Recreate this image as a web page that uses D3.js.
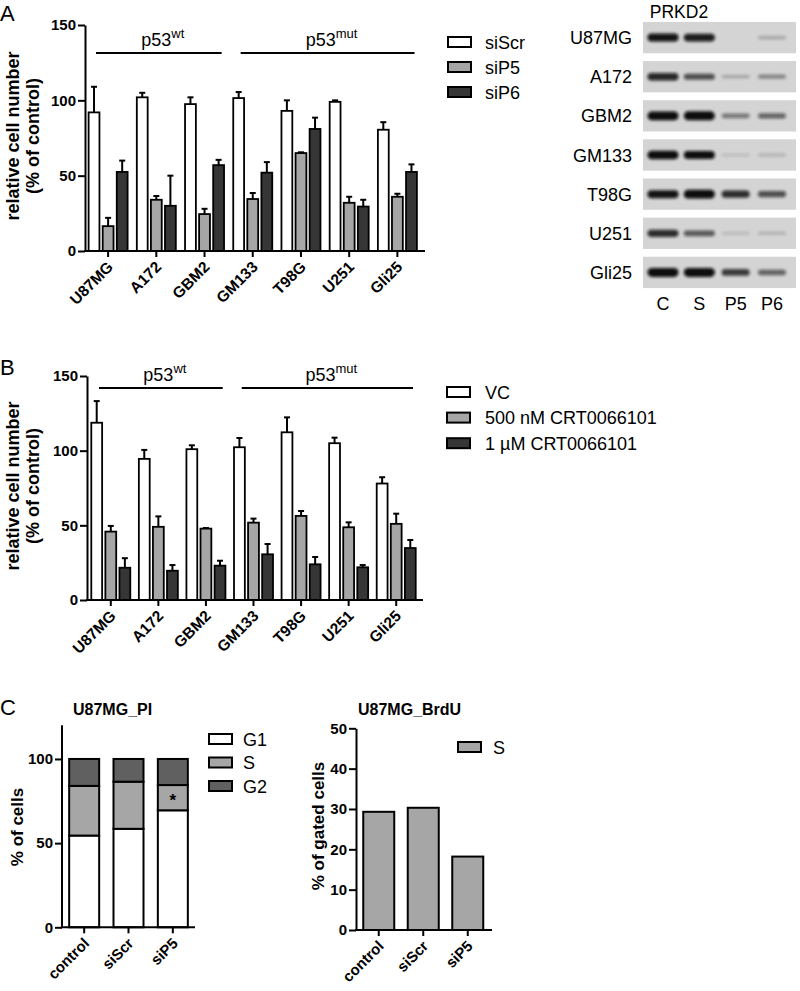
<!DOCTYPE html>
<html><head><meta charset="utf-8">
<script src="https://cdn.jsdelivr.net/npm/d3@7"></script>
<style>body{margin:0;background:#fff} svg{display:block}</style>
</head><body><svg id="c" width="800" height="991"></svg>
<script>
// ---------------- DATA ----------------
const cellLines = ["U87MG","A172","GBM2","GM133","T98G","U251","Gli25"];
const yTicksAB = [0,50,100,150];

// Panel A (siRNA)
const seriesA = ["siScr","siP5","siP6"];
const siScrMean = [92,102,97.5,101.5,93,99,80.5];
const siScrSD   = [17,3,4.5,4,7,1,5];
const siP5Mean  = [16.5,34,24.5,34.5,65,32,36];
const siP5SD    = [5.5,2.5,3.5,4,0.5,4,2];
const siP6Mean  = [52.5,30,57,52,81,29.5,52.5];
const siP6SD    = [7.5,20,3.5,7,7.5,4.5,5];

// Panel B (CRT0066101)
const seriesB = ["VC","500 nM CRT0066101","1 \u00b5M CRT0066101"];
const vcMean   = [118.7,94.5,101,102.3,112.3,105,78];
const vcSD     = [14.5,6,2.6,6.2,10,3.7,4.2];
const c500Mean = [45.8,49,47.8,51.8,56.3,48.7,51];
const c500SD   = [3.8,7,0.4,2.7,3.3,3.3,6.8];
const c1Mean   = [21.6,19.6,23,30.6,23.9,21.9,34.8];
const c1SD     = [6.4,3.8,3.3,6.9,4.9,1.5,5.4];

// p53 status groups
const p53Groups = [
  {sup:"wt", from:"U87MG", to:"GBM2"},
  {sup:"mut", from:"GM133", to:"Gli25"}
];

// Western blot (PRKD2), band intensity 0..1
const blotLanes = ["C","S","P5","P6"];
const blotIntensity = [
  [0.85,0.80,0.00,0.12],
  [0.75,0.55,0.12,0.28],
  [0.95,1.00,0.35,0.45],
  [0.92,0.88,0.02,0.05],
  [0.85,0.95,0.72,0.55],
  [0.72,0.50,0.03,0.07],
  [1.00,1.00,0.65,0.45]
];

// Panel C
const condC = ["control","siScr","siP5"];
const phases = ["G1","S","G2"];
const g1Pct = [54.5,58.5,69.5];
const sPct  = [29.5,28,15];
const g2Pct = [16,13.5,15.5];
const yTicksPI = [0,50,100];
const brduS = [29.3,30.3,18.2];
const yTicksBrdU = [0,10,20,30,40,50];

// ---------------- STYLE ----------------
const FONT = '"Liberation Sans", Arial, Helvetica, sans-serif';
const FILL3 = ["#ffffff","#a6a6a6","#363636"];
const FILLC = ["#ffffff","#a6a6a6","#606060"];

const svg = d3.select("#c").style("font-family", FONT);
const defs = svg.append("defs");
defs.append("filter").attr("id","blur").attr("x","-30%").attr("y","-100%").attr("width","160%").attr("height","300%")
  .append("feGaussianBlur").attr("stdDeviation",1.4);

function panelLetter(t, x, y){
  svg.append("text").attr("x",x).attr("y",y).attr("font-size",22).text(t);
}

function yTitle(lines, x0, cy, size, gap){
  lines.forEach((l,i)=>{
    svg.append("text")
      .attr("transform",`translate(${x0+i*gap},${cy}) rotate(-90)`)
      .attr("text-anchor","middle").attr("font-weight","bold").attr("font-size",size).text(l);
  });
}

function yAxis(y, x, ticks){
  const g = svg.append("g").attr("transform",`translate(${x},0)`)
    .call(d3.axisLeft(y).tickValues(ticks).tickSize(7).tickPadding(2).tickSizeOuter(0));
  g.select(".domain").attr("stroke","#000").attr("stroke-width",2);
  g.selectAll(".tick line").attr("stroke","#000").attr("stroke-width",2);
  g.selectAll(".tick text").attr("font-family",FONT).attr("font-weight","bold").attr("font-size",15).attr("fill","#000");
  return g;
}

function xAxis(x, yPos, x0, x1, fontSize){
  svg.append("line").attr("x1",x0-1).attr("x2",x1).attr("y1",yPos).attr("y2",yPos)
    .attr("stroke","#000").attr("stroke-width",2);
  const g = svg.append("g");
  x.domain().forEach(d=>{
    const cx = x(d) + x.bandwidth()/2;
    g.append("line").attr("x1",cx).attr("x2",cx).attr("y1",yPos).attr("y2",yPos+6)
      .attr("stroke","#000").attr("stroke-width",2);
    g.append("text").attr("transform",`translate(${cx+6},${yPos+17}) rotate(-45)`)
      .attr("text-anchor","end").attr("font-weight","bold").attr("font-size",fontSize).text(d);
  });
}

function legend(items, fills, x, y0, step, textX){
  items.forEach((t,i)=>{
    const cy = y0 + i*step;
    svg.append("rect").attr("x",x).attr("y",cy-5).attr("width",23).attr("height",10)
      .attr("fill",fills[i]).attr("stroke","#000").attr("stroke-width",2);
    svg.append("text").attr("x",textX).attr("y",cy+6.5).attr("font-size",18).text(t);
  });
}

function groupedPanel(cfg){
  const x = d3.scaleBand().domain(cellLines).range([cfg.x0, cfg.x1]);
  const y = d3.scaleLinear().domain([0,150]).range([cfg.yBottom, cfg.yTop]);
  const sub = d3.scaleBand().domain(d3.range(3)).range([-19.5, 19.5]).paddingInner(0.23);
  cfg.means.forEach((arr, s)=>{
    arr.forEach((v, i)=>{
      const cx = x(cellLines[i]) + x.bandwidth()/2;
      const bx = cx + sub(s);
      const bw = sub.bandwidth();
      const top = y(v + cfg.sds[s][i]);
      // error bar (upper)
      svg.append("line").attr("x1",bx+bw/2).attr("x2",bx+bw/2).attr("y1",y(v)).attr("y2",top)
        .attr("stroke","#000").attr("stroke-width",2);
      svg.append("line").attr("x1",bx+bw/2-3).attr("x2",bx+bw/2+3).attr("y1",top).attr("y2",top)
        .attr("stroke","#000").attr("stroke-width",2);
      svg.append("rect").attr("x",bx).attr("y",y(v)).attr("width",bw).attr("height",y(0)-y(v))
        .attr("fill",FILL3[s]).attr("stroke","#000").attr("stroke-width",1.8);
    });
  });
  yAxis(y, cfg.axisX, yTicksAB);
  xAxis(x, cfg.yBottom, cfg.axisX, cfg.axisEnd, 15.5);
  // p53 brackets
  p53Groups.forEach(gp=>{
    const a = x(gp.from) + 12, b = x(gp.to) + x.bandwidth() - 7;
    svg.append("line").attr("x1",a).attr("x2",b).attr("y1",cfg.bracketY).attr("y2",cfg.bracketY)
      .attr("stroke","#000").attr("stroke-width",2);
    const t = svg.append("text").attr("x",(a+b)/2 + 4).attr("y",cfg.bracketY-7)
      .attr("text-anchor","middle").attr("font-size",18);
    t.append("tspan").text("p53");
    t.append("tspan").attr("font-size",13).attr("dy",-8).text(gp.sup);
  });
  return {x,y};
}

// ---------------- PANEL A ----------------
panelLetter("A", 0, 21);
groupedPanel({x0:84, x1:421.5, axisX:85, axisEnd:425, yBottom:251, yTop:25,
  means:[siScrMean,siP5Mean,siP6Mean], sds:[siScrSD,siP5SD,siP6SD], bracketY:53});
yTitle(["relative cell number","(% of control)"], 19, 136, 18, 20);
legend(seriesA, FILL3, 448, 42, 25, 485);

// Western blot
(function(){
  const rowY = d3.scaleBand().domain(cellLines).range([18,292]).paddingInner(0.2).paddingOuter(0.1);
  const lane = d3.scalePoint().domain(blotLanes).range([663,772]);
  const stripX0 = 643, stripX1 = 796;
  svg.append("text").attr("x",679).attr("y",18).attr("text-anchor","middle").attr("font-size",17.5).text("PRKD2");
  cellLines.forEach((c,i)=>{
    const y0 = rowY(c), h = rowY.bandwidth(), cy = y0 + h/2;
    svg.append("rect").attr("x",stripX0).attr("y",y0).attr("width",stripX1-stripX0).attr("height",h)
      .attr("fill","#d4d4d4");
    svg.append("text").attr("x",632).attr("y",cy+6.5).attr("text-anchor","end").attr("font-size",18).text(c);
    blotLanes.forEach((l,j)=>{
      const v = blotIntensity[i][j];
      if (v <= 0.01) return;
      const bw = j < 2 ? 31 : 28;
      const bh = 2.5 + 6.5*v;
      svg.append("rect").attr("x",lane(l)-bw/2).attr("y",cy-bh/2).attr("width",bw).attr("height",bh)
        .attr("rx",bh/2).attr("fill","#0a0a0a").attr("opacity",Math.min(1,0.12+v))
        .attr("filter","url(#blur)");
    });
  });
  blotLanes.forEach(l=>{
    svg.append("text").attr("x",lane(l)).attr("y",310).attr("text-anchor","middle").attr("font-size",18).text(l);
  });
})();

// ---------------- PANEL B ----------------
panelLetter("B", 0, 375);
groupedPanel({x0:87, x1:420, axisX:87, axisEnd:423, yBottom:600, yTop:376,
  means:[vcMean,c500Mean,c1Mean], sds:[vcSD,c500SD,c1SD], bracketY:388});
yTitle(["relative cell number","(% of control)"], 19, 486, 18, 20);
legend(seriesB, FILL3, 447, 392, 25.6, 485);

// ---------------- PANEL C (left) ----------------
panelLetter("C", 0, 715);
(function(){
  const x = d3.scaleBand().domain(condC).range([62,195]);
  const y = d3.scaleLinear().domain([0,120]).range([927.3,725.3]);
  const stack = d3.stack().keys([0,1,2])(condC.map((c,i)=>[g1Pct[i],sPct[i],g2Pct[i]]));
  stack.forEach((layer,s)=>{
    layer.forEach((seg,i)=>{
      const cx = x(condC[i]) + x.bandwidth()/2;
      svg.append("rect").attr("x",cx-15).attr("y",y(seg[1])).attr("width",30).attr("height",y(seg[0])-y(seg[1]))
        .attr("fill",FILLC[s]).attr("stroke","#000").attr("stroke-width",2);
    });
  });
  // asterisk on siP5 S phase
  const seg = stack[1][2];
  svg.append("text").attr("x",x("siP5")+x.bandwidth()/2).attr("y",(y(seg[0])+y(seg[1]))/2+8)
    .attr("text-anchor","middle").attr("font-size",17).attr("font-weight","bold").text("*");
  const ya = yAxis(y, 62, yTicksPI);
  ya.select(".domain").attr("d", `M0,${y(0)}V${y(120)}`);
  xAxis(x, 927.3, 62, 195, 15);
  svg.append("text").attr("x",73).attr("y",715).attr("font-weight","bold").attr("font-size",16).text("U87MG_PI");
  yTitle(["% of cells"], 23, 827, 17, 0);
  legend(phases, FILLC, 209, 739, 23.5, 243);
})();

// ---------------- PANEL C (right) ----------------
(function(){
  const x = d3.scaleBand().domain(condC).range([356.5,490]);
  const y = d3.scaleLinear().domain([0,50]).range([930,728.3]);
  brduS.forEach((v,i)=>{
    const cx = x(condC[i]) + x.bandwidth()/2;
    svg.append("rect").attr("x",cx-15.5).attr("y",y(v)).attr("width",31).attr("height",y(0)-y(v))
      .attr("fill",FILLC[1]).attr("stroke","#000").attr("stroke-width",2);
  });
  yAxis(y, 356, yTicksBrdU);
  xAxis(x, 930, 356, 492, 15);
  svg.append("text").attr("x",358).attr("y",715).attr("font-weight","bold").attr("font-size",16).text("U87MG_BrdU");
  yTitle(["% of gated cells"], 324, 826, 17, 0);
  legend(["S"], [FILLC[1]], 458, 747, 0, 493);
})();
</script></body></html>
